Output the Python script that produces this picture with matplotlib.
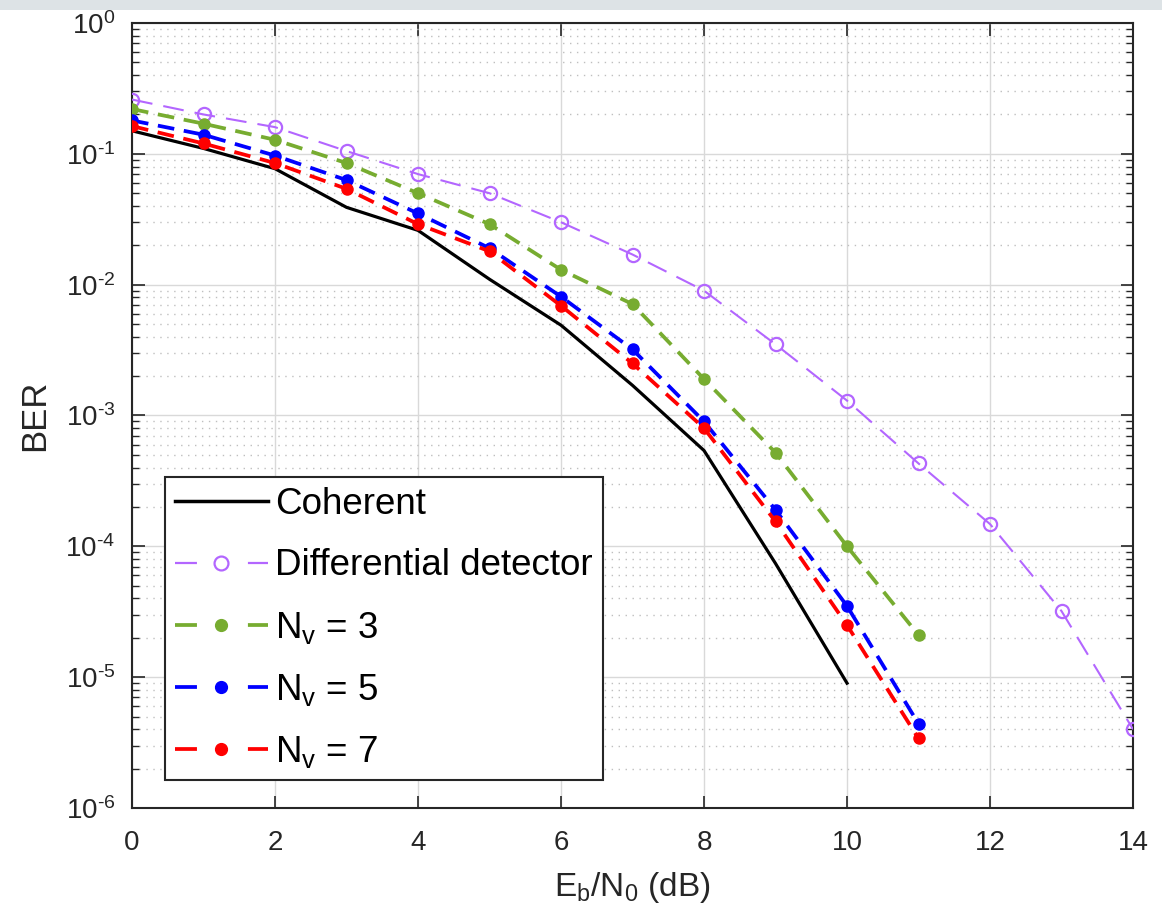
import matplotlib
matplotlib.use("Agg")
import matplotlib.pyplot as plt
from matplotlib.patches import Rectangle
from matplotlib.lines import Line2D
from matplotlib.ticker import LogLocator, NullFormatter, MultipleLocator, FuncFormatter, FixedLocator
import math

plt.rcParams['font.family'] = ['Liberation Sans', 'DejaVu Sans']
plt.rcParams['mathtext.fontset'] = 'custom'
plt.rcParams['mathtext.rm'] = 'Liberation Sans'
plt.rcParams['mathtext.it'] = 'Liberation Sans'
plt.rcParams['mathtext.default'] = 'regular'
plt.rcParams['axes.unicode_minus'] = False
plt.rcParams['lines.scale_dashes'] = False

ebn0_coh = [0, 1, 2, 3, 4, 5, 6, 7, 8, 9, 10]
ber_coherent = [0.15, 0.11, 0.077, 0.039, 0.026, 0.011, 0.0049, 0.0017, 5.4e-4, 7.4e-5, 9e-6]

ebn0_diff = [0, 1, 2, 3, 4, 5, 6, 7, 8, 9, 10, 11, 12, 13, 14]
ber_diff = [0.26, 0.20, 0.16, 0.105, 0.07, 0.05, 0.030, 0.017, 0.0090, 0.0035,
            0.0013, 4.3e-4, 1.48e-4, 3.2e-5, 4.0e-6]

ebn0_nv = [0, 1, 2, 3, 4, 5, 6, 7, 8, 9, 10, 11]
ber_nv3 = [0.22, 0.17, 0.128, 0.085, 0.050, 0.029, 0.013, 0.0071, 0.0019, 5.2e-4, 1.0e-4, 2.1e-5]
ber_nv5 = [0.18, 0.14, 0.097, 0.063, 0.035, 0.019, 0.0081, 0.0032, 9.0e-4, 1.9e-4, 3.5e-5, 4.4e-6]
ber_nv7 = [0.163, 0.12, 0.085, 0.054, 0.029, 0.018, 0.0069, 0.0025, 8.0e-4, 1.55e-4, 2.5e-5, 3.4e-6]

labels = ['Coherent', 'Differential detector', r'$N_v$ = 3', r'$N_v$ = 5', r'$N_v$ = 7']
y_decades = [-6, -5, -4, -3, -2, -1, 0]

PURPLE = '#b366ff'
GREEN = '#77ac30'
BLUE = '#0000ff'
RED = '#ff0000'

fig = plt.figure(figsize=(11.62, 9.16), dpi=100)
fig.patches.append(Rectangle((0, 1 - 10 / 916), 1, 10 / 916, transform=fig.transFigure,
                             facecolor='#dde3e6', edgecolor='none', zorder=0))
ax = fig.add_axes([132 / 1162, 1 - 808 / 916, (1133 - 132) / 1162, (808 - 23) / 916])

ax.plot(ebn0_coh, ber_coherent, color='black', lw=2.3, zorder=3)
ax.plot(ebn0_diff, ber_diff, color=PURPLE, lw=1.5, dashes=(15, 8), marker='o', ms=9.5,
        mfc='none', mec=PURPLE, mew=1.6, zorder=3)
ax.plot(ebn0_nv, ber_nv3, color=GREEN, lw=2.7, dashes=(12, 7), marker='o', ms=8,
        mfc=GREEN, mec=GREEN, zorder=3)
ax.plot(ebn0_nv, ber_nv5, color=BLUE, lw=2.7, dashes=(12, 7), marker='o', ms=8,
        mfc=BLUE, mec=BLUE, zorder=3)
ax.plot(ebn0_nv, ber_nv7, color=RED, lw=2.7, dashes=(12, 7), marker='o', ms=8,
        mfc=RED, mec=RED, zorder=3)

ax.set_yscale('log')
ax.set_xlim(0, 14)
ax.set_ylim(1e-6, 1)
ax.xaxis.set_major_locator(MultipleLocator(2))
ax.yaxis.set_major_locator(FixedLocator([10.0 ** k for k in y_decades]))
ax.yaxis.set_minor_locator(LogLocator(base=10, subs=range(2, 10), numticks=100))
ax.yaxis.set_minor_formatter(NullFormatter())


def log_fmt(v, pos):
    e = int(round(math.log10(v)))
    if e < 0:
        return r'$10^{\text{-%d}}$' % (-e)
    return r'$10^{%d}$' % e


ax.yaxis.set_major_formatter(FuncFormatter(log_fmt))

ax.grid(True, which='major', color='#d9d9d9', lw=1.0, ls='-')
ax.grid(True, which='minor', axis='y', color='#bfbfbf', lw=1.0, ls=(0, (1, 4)))
ax.set_axisbelow(True)

ax.tick_params(which='both', direction='in', top=True, right=True, colors='#262626',
               labelcolor='#262626')
ax.tick_params(which='major', length=9, width=1.2, labelsize=20)
ax.tick_params(axis='x', which='major', pad=16)
ax.tick_params(axis='y', which='major', pad=12)
ax.tick_params(which='minor', length=5, width=1.0)
for s in ax.spines.values():
    s.set_color('#262626')
    s.set_linewidth(1.5)

ax.set_xlabel(r'$E_b/N_0$ (dB)', fontsize=24, color='#262626', labelpad=10)
ax.set_ylabel('BER', fontsize=25, color='#262626', labelpad=10)

# legend proxies (dash - marker - dash look)
leg_fs = 26.5
ldash = (15.8, 36.7)
handles = [
    Line2D([], [], color='black', lw=2.5),
    Line2D([], [], color=PURPLE, lw=1.6, dashes=ldash, marker='o', ms=10,
           mfc='none', mec=PURPLE, mew=1.6),
    Line2D([], [], color=GREEN, lw=2.7, dashes=ldash, marker='o', ms=8.5,
           mfc=GREEN, mec=GREEN),
    Line2D([], [], color=BLUE, lw=2.7, dashes=ldash, marker='o', ms=8.5,
           mfc=BLUE, mec=BLUE),
    Line2D([], [], color=RED, lw=2.7, dashes=ldash, marker='o', ms=8.5,
           mfc=RED, mec=RED),
]
em_px = leg_fs * 100 / 72
leg = ax.legend(handles, labels, loc='lower left', bbox_to_anchor=(0.033, 0.036),
                borderaxespad=0, fontsize=leg_fs, handlelength=93 / em_px,
                handletextpad=0.2, labelspacing=0.71, borderpad=0.27, fancybox=False,
                framealpha=1, edgecolor='#262626', numpoints=1)
leg.get_frame().set_linewidth(1.5)

fig.savefig('out.png', dpi=100)
